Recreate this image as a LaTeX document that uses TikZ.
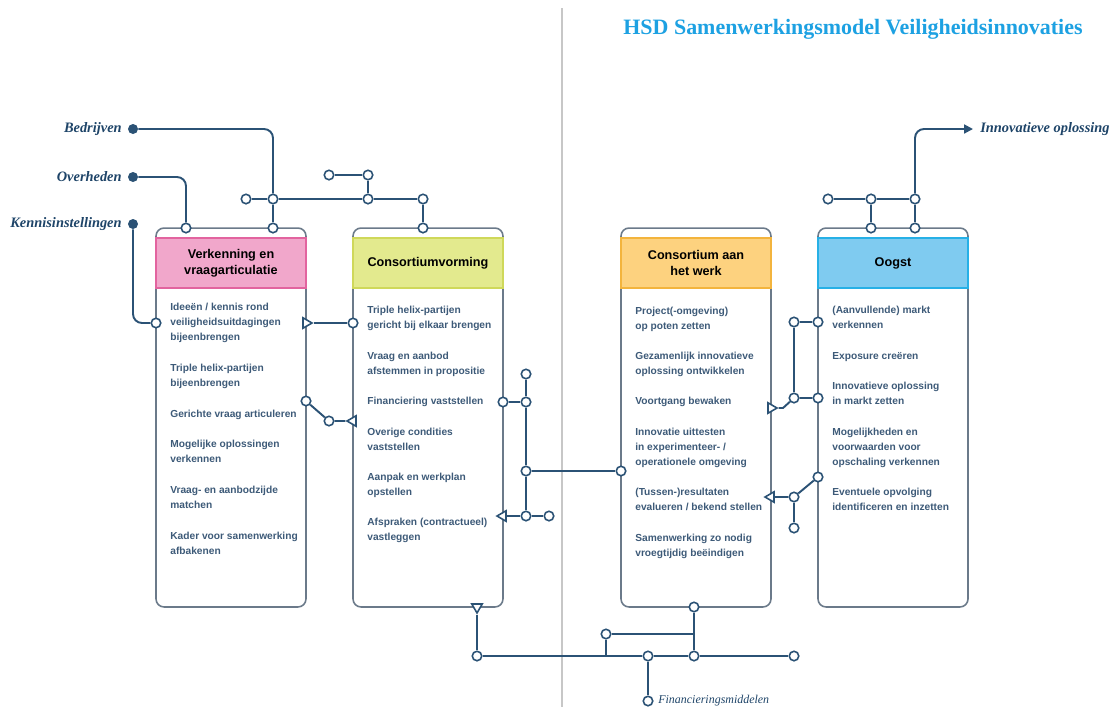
\documentclass[tikz,border=0pt]{standalone}
\usepackage{fontspec}
\setmainfont{Liberation Serif}
\setsansfont{Liberation Sans}
\usepackage{tikz}
\usetikzlibrary{positioning}
\usetikzlibrary{shapes.geometric,arrows.meta}

\definecolor{linec}{HTML}{2B5275}
\definecolor{boxc}{HTML}{6B7A8A}
\definecolor{itemc}{HTML}{3D5A78}
\definecolor{tagc}{HTML}{1E4468}
\definecolor{titlec}{HTML}{1DA1E2}
\definecolor{pinkf}{HTML}{F1A7CB}
\definecolor{pinkd}{HTML}{E2649F}
\definecolor{limef}{HTML}{E3EA8E}
\definecolor{limed}{HTML}{CFD85A}
\definecolor{orangef}{HTML}{FDD27F}
\definecolor{oranged}{HTML}{F3B43D}
\definecolor{bluef}{HTML}{7FCBF0}
\definecolor{blued}{HTML}{26B0E6}

\tikzset{
  link/.style={draw=linec, line width=1.1pt},
  port/.style={circle, draw=linec, fill=white, line width=0.9pt, minimum size=0.19cm, inner sep=0pt},
  src/.style={circle, fill=linec, minimum size=0.2cm, inner sep=0pt},
  tri/.style={regular polygon, regular polygon sides=3, draw=linec, fill=white, line width=0.9pt, minimum size=0.24cm, inner sep=0pt},
  panel/.style={draw=boxc, line width=0.9pt, rounded corners=0.16cm, minimum width=3cm, minimum height=7.58cm, inner sep=0pt},
  head/.style={line width=0.9pt, minimum width=3cm, minimum height=1cm, inner sep=0pt, align=center, font=\sffamily\bfseries\fontsize{7.2}{9}\selectfont},
  item/.style={anchor=north west, align=left, inner sep=0pt, text=itemc, font=\sffamily\bfseries\fontsize{5.8}{8.6}\selectfont},
  tag/.style={text=tagc, inner sep=0pt, font=\bfseries\itshape\fontsize{8.2}{10}\selectfont}
}

\begin{document}
\begin{tikzpicture}[x=0.02cm,y=-0.02cm]
\useasboundingbox (0,0) rectangle (1114,707);
\draw[color=black!22, line width=0.8pt] (562,8) -- (562,707);
\node[text=titlec, font=\bfseries\fontsize{12.5}{14}\selectfont] (title) at (853,29) {HSD Samenwerkingsmodel Veiligheidsinnovaties};

% panels
\node[panel] (p1) at (231,417.5) {};
\node[panel] (p2) at (428,417.5) {};
\node[panel] (p3) at (696,417.5) {};
\node[panel] (p4) at (893,417.5) {};
\node[head, fill=pinkf, draw=pinkd] (h1) at (231,263) {Verkenning en\\vraagarticulatie};
\node[head, fill=limef, draw=limed] (h2) at (428,263) {Consortiumvorming};
\node[head, fill=orangef, draw=oranged] (h3) at (696,263) {Consortium aan\\het werk};
\node[head, fill=bluef, draw=blued] (h4) at (893,263) {Oogst};

% items
\node[item] (a1) at (170,303) {Ideeën / kennis rond\\veiligheidsuitdagingen\\bijeenbrengen};
\node[item] (a2) at (170,364) {Triple helix-partijen\\bijeenbrengen};
\node[item] (a3) at (170,410) {Gerichte vraag articuleren};
\node[item] (a4) at (170,440) {Mogelijke oplossingen\\verkennen};
\node[item] (a5) at (170,486) {Vraag- en aanbodzijde\\matchen};
\node[item] (a6) at (170,532) {Kader voor samenwerking\\afbakenen};
\node[item] (b1) at (367,306) {Triple helix-partijen\\gericht bij elkaar brengen};
\node[item] (b2) at (367,352) {Vraag en aanbod\\afstemmen in propositie};
\node[item] (b3) at (367,397) {Financiering vaststellen};
\node[item] (b4) at (367,428) {Overige condities\\vaststellen};
\node[item] (b5) at (367,473) {Aanpak en werkplan\\opstellen};
\node[item] (b6) at (367,518) {Afspraken (contractueel)\\vastleggen};
\node[item] (d1) at (635,307) {Project(-omgeving)\\op poten zetten};
\node[item] (d2) at (635,352) {Gezamenlijk innovatieve\\oplossing ontwikkelen};
\node[item] (d3) at (635,397) {Voortgang bewaken};
\node[item] (d4) at (635,428) {Innovatie uittesten\\in experimenteer- /\\operationele omgeving};
\node[item] (d5) at (635,488) {(Tussen-)resultaten\\evalueren / bekend stellen};
\node[item] (d6) at (635,534) {Samenwerking zo nodig\\vroegtijdig beëindigen};
\node[item] (e1) at (832,306) {(Aanvullende) markt\\verkennen};
\node[item] (e2) at (832,352) {Exposure creëren};
\node[item] (e3) at (832,382) {Innovatieve oplossing\\in markt zetten};
\node[item] (e4) at (832,428) {Mogelijkheden en\\voorwaarden voor\\opschaling verkennen};
\node[item] (e5) at (832,488) {Eventuele opvolging\\identificeren en inzetten};

% inputs left
\node[src] (s1) at (133,129) {};
\node[src] (s2) at (133,177) {};
\node[src] (s3) at (133,224) {};
\node[tag, anchor=east] (bedr) at (122,129) {Bedrijven};
\node[tag, anchor=east] (overh) at (122,177) {Overheden};
\node[tag, anchor=east] (kenn) at (122,224) {Kennisinstellingen};

% ports
\node[port] (c1) at (186,228) {};
\node[port] (c2) at (273,228) {};
\node[port] (c3) at (273,199) {};
\node[port] (c4) at (246,199) {};
\node[port] (c5) at (368,199) {};
\node[port] (c6) at (423,199) {};
\node[port] (c7) at (423,228) {};
\node[port] (c8) at (368,175) {};
\node[port] (c9) at (329,175) {};
\node[port] (c10) at (156,323) {};
\node[tri, shape border rotate=-90] (t1) at (306,323) {};
\node[port] (c11) at (353,323) {};
\node[port] (c12) at (306,401) {};
\node[port] (c13) at (329,421) {};
\node[tri, shape border rotate=90] (t2) at (353,421) {};
\node[port] (c14) at (503,402) {};
\node[port] (c15) at (526,402) {};
\node[port] (c16) at (526,374) {};
\node[port] (c17) at (526,471) {};
\node[port] (c18) at (621,471) {};
\node[port] (c19) at (526,516) {};
\node[port] (c20) at (549,516) {};
\node[tri, shape border rotate=90] (t3) at (503,516) {};
\node[tri, shape border rotate=-90] (t4) at (771,408) {};
\coordinate (k1) at (783,408);
\node[port] (c21) at (794,398) {};
\node[port] (c22) at (818,398) {};
\node[port] (c23) at (794,322) {};
\node[port] (c24) at (818,322) {};
\node[tri, shape border rotate=90] (t5) at (771,497) {};
\node[port] (c25) at (794,497) {};
\node[port] (c26) at (818,477) {};
\node[port] (c27) at (794,528) {};
\node[port] (c28) at (871,228) {};
\node[port] (c29) at (915,228) {};
\node[port] (c30) at (828,199) {};
\node[port] (c31) at (871,199) {};
\node[port] (c32) at (915,199) {};
\coordinate (io) at (973,129);
\node[tag, anchor=west] (innov) at (980,129) {Innovatieve oplossing};
\node[tri, shape border rotate=180] (t6) at (477,607) {};
\node[port] (c33) at (477,656) {};
\coordinate (j1) at (606,656);
\node[port] (c34) at (606,634) {};
\node[port] (c35) at (648,656) {};
\node[port] (c36) at (694,656) {};
\node[port] (c37) at (794,656) {};
\node[port] (c38) at (694,607) {};
\node[port] (c39) at (648,701) {};
\node[text=tagc, inner sep=0pt, font=\itshape\fontsize{6.8}{9}\selectfont, anchor=west] (fin) at (658,701) {Financieringsmiddelen};

% connectors
\draw[link, rounded corners=0.18cm] (s1) -| (c3);
\draw[link, rounded corners=0.18cm] (s2) -| (c1);
\draw[link, rounded corners=0.18cm] (s3) |- (c10);
\draw[link] (c3) -- (c2);
\draw[link] (c4) -- (c3) -- (c5) -- (c6) -- (c7);
\draw[link] (c5) -- (c8) -- (c9);
\draw[link] (t1) -- (c11);
\draw[link] (c12) -- (c13) -- (t2);
\draw[link] (c14) -- (c15);
\draw[link] (c16) -- (c15) -- (c17) -- (c19);
\draw[link] (c17) -- (c18);
\draw[link] (t3) -- (c19) -- (c20);
\draw[link] (t4) -- (k1) -- (c21) -- (c22);
\draw[link] (c21) -- (c23) -- (c24);
\draw[link] (t5) -- (c25) -- (c26);
\draw[link] (c25) -- (c27);
\draw[link] (c30) -- (c31) -- (c32);
\draw[link] (c31) -- (c28);
\draw[link] (c32) -- (c29);
\draw[link, rounded corners=0.18cm, -{Triangle[length=5pt,width=5pt]}] (c32) |- (io);
\draw[link] (t6) -- (c33) -- (j1) -- (c35) -- (c36) -- (c37);
\draw[link] (c34) -- (j1);
\draw[link] (c34) -- (c34 -| c38);
\draw[link] (c38) -- (c36);
\draw[link] (c35) -- (c39);
\end{tikzpicture}
\end{document}
